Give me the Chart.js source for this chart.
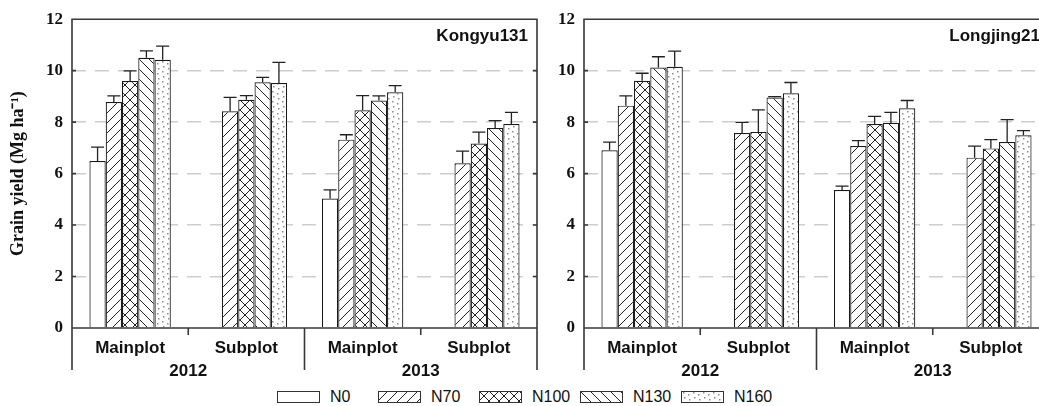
<!DOCTYPE html>
<html>
<head>
<meta charset="utf-8">
<script src="https://cdn.jsdelivr.net/npm/chart.js@4.4.0/dist/chart.umd.min.js"></script>
<style>
    html, body { margin: 0; padding: 0; background: #fff; width: 1039px; height: 406px; overflow: hidden; }
    #wrap { position: relative; width: 1039px; height: 406px; overflow: hidden; }
    #leftChart { position: absolute; left: 0; top: 0; }
    #rightChart { position: absolute; left: 545px; top: 0; }
    #legend { position: absolute; left: 277px; top: 388px; display: flex; font: 16px "Liberation Sans", Arial, sans-serif; color: #111; }
    .item { width: 101px; display: flex; align-items: center; }
    .item canvas { margin-right: 10px; }
</style>
</head>
<body>
<div id="wrap">
    <canvas id="leftChart" width="545" height="380"></canvas>
    <canvas id="rightChart" width="512" height="380"></canvas>
    <div id="legend"></div>
</div>
<script>
// --- Data ---
const categories = ['Mainplot', 'Subplot', 'Mainplot', 'Subplot'];
const years = ['2012', '2013'];
const seriesNames = ['N0', 'N70', 'N100', 'N130', 'N160'];

// Kongyu131 means and standard errors
const kongyuN0 = [6.49, null, 5.03, null];
const kongyuN70 = [8.78, 8.42, 7.32, 6.40];
const kongyuN100 = [9.60, 8.87, 8.46, 7.17];
const kongyuN130 = [10.50, 9.55, 8.84, 7.77];
const kongyuN160 = [10.42, 9.52, 9.16, 7.93];
const kongyuSeN0 = [0.54, null, 0.34, null];
const kongyuSeN70 = [0.24, 0.54, 0.19, 0.47];
const kongyuSeN100 = [0.39, 0.16, 0.57, 0.44];
const kongyuSeN130 = [0.27, 0.19, 0.18, 0.29];
const kongyuSeN160 = [0.53, 0.80, 0.26, 0.45];

// Longjing21 means and standard errors
const longjingN0 = [6.91, null, 5.36, null];
const longjingN70 = [8.64, 7.58, 7.07, 6.62];
const longjingN100 = [9.61, 7.62, 7.93, 6.98];
const longjingN130 = [10.12, 8.96, 7.97, 7.23];
const longjingN160 = [10.15, 9.12, 8.54, 7.49];
const longjingSeN0 = [0.31, null, 0.15, null];
const longjingSeN70 = [0.38, 0.41, 0.21, 0.45];
const longjingSeN100 = [0.29, 0.86, 0.29, 0.34];
const longjingSeN130 = [0.42, 0.03, 0.41, 0.87];
const longjingSeN160 = [0.61, 0.42, 0.30, 0.18];

const yTicks = [0, 2, 4, 6, 8, 10, 12];

const serif = '"Liberation Serif", "Times New Roman", serif';
const sans = '"Liberation Sans", Arial, sans-serif';

// --- Fill patterns ---
function hatch(kind) {
    const s = 10;
    const c = document.createElement('canvas');
    c.width = c.height = s;
    const g = c.getContext('2d');
    g.fillStyle = '#fff';
    g.fillRect(0, 0, s, s);
    if (kind === 'none') return '#fff';
    g.strokeStyle = '#222';
    g.lineWidth = 1;
    g.beginPath();
    if (kind === '/' || kind === 'x') {
        g.moveTo(0, s); g.lineTo(s, 0);
        g.moveTo(-1, 1); g.lineTo(1, -1);
        g.moveTo(s - 1, s + 1); g.lineTo(s + 1, s - 1);
    }
    if (kind === '\\' || kind === 'x') {
        g.moveTo(0, 0); g.lineTo(s, s);
        g.moveTo(s - 1, -1); g.lineTo(s + 1, 1);
        g.moveTo(-1, s - 1); g.lineTo(1, s + 1);
    }
    g.stroke();
    if (kind === '.') {
        g.fillStyle = '#8c8c8c';
        [[2, 1], [7, 3], [3, 6], [8, 8]].forEach(([px, py]) => g.fillRect(px, py, 1.5, 1.5));
    }
    return g.createPattern(c, 'repeat');
}
const fills = [hatch('none'), hatch('/'), hatch('x'), hatch('\\'), hatch('.')];

// --- Plugins ---
const errorBarPlugin = {
    id: 'errorBars',
    afterDatasetsDraw(chart) {
        const { ctx, scales: { y } } = chart;
        ctx.save();
        ctx.strokeStyle = '#222';
        ctx.lineWidth = 1.3;
        chart.data.datasets.forEach((ds, di) => {
            chart.getDatasetMeta(di).data.forEach((bar, i) => {
                const v = ds.data[i], e = ds.se[i];
                if (v == null || e == null) return;
                const top = y.getPixelForValue(v + e);
                ctx.beginPath();
                ctx.moveTo(bar.x, bar.y);
                ctx.lineTo(bar.x, top);
                ctx.moveTo(bar.x - 6.5, top);
                ctx.lineTo(bar.x + 6.5, top);
                ctx.stroke();
            });
        });
        ctx.restore();
    }
};

const framePlugin = {
    id: 'frame',
    afterDatasetsDraw(chart, args, opts) {
        const { ctx, chartArea: a, scales: { x, y } } = chart;
        const base = 370; // lower end of the category separators
        const edge = i => (x.getPixelForValue(i) + x.getPixelForValue(i + 1)) / 2;
        ctx.save();
        ctx.strokeStyle = '#383838';
        ctx.lineWidth = 1.6;
        ctx.beginPath();
        ctx.moveTo(a.left, base); ctx.lineTo(a.left, a.top);
        ctx.lineTo(a.right, a.top); ctx.lineTo(a.right, base);
        ctx.moveTo(a.left, a.bottom); ctx.lineTo(a.right, a.bottom);
        ctx.moveTo(edge(1), a.bottom); ctx.lineTo(edge(1), base);
        [0, 2].forEach(i => { ctx.moveTo(edge(i), a.bottom); ctx.lineTo(edge(i), a.bottom + 7); });
        yTicks.forEach(t => {
            const py = y.getPixelForValue(t);
            ctx.moveTo(a.left, py); ctx.lineTo(a.left + 4, py);
            ctx.moveTo(a.right, py); ctx.lineTo(a.right - 4, py);
        });
        ctx.stroke();

        // Year labels under each pair of categories
        ctx.fillStyle = '#111';
        ctx.font = 'bold 17px ' + sans;
        ctx.textAlign = 'center';
        ctx.textBaseline = 'middle';
        years.forEach((yr, i) => {
            const cx = (x.getPixelForValue(2 * i) + x.getPixelForValue(2 * i + 1)) / 2;
            ctx.fillText(yr, cx, 371);
        });

        // Cultivar name, top right
        ctx.textAlign = 'right';
        ctx.fillText(opts.label, a.right - 9, 36);
        ctx.restore();
    }
};

function buildChart(id, means, ses, label, showTitle, axisWidth) {
    return new Chart(document.getElementById(id), {
        type: 'bar',
        data: {
            labels: categories,
            datasets: seriesNames.map((name, k) => ({
                label: name,
                data: means[k],
                se: ses[k],
                backgroundColor: fills[k],
                borderColor: '#1a1a1a',
                borderWidth: 1.2
            }))
        },
        options: {
            responsive: false,
            animation: false,
            layout: { padding: { top: 17, right: 8, left: 0, bottom: 0 } },
            datasets: { bar: { categoryPercentage: 0.70, barPercentage: 1.0 } },
            plugins: {
                legend: { display: false },
                tooltip: { enabled: false },
                frame: { label: label }
            },
            scales: {
                x: {
                    grid: { display: false, drawTicks: false },
                    border: { display: false },
                    ticks: { font: { family: sans, size: 17, weight: 'bold' }, color: '#111', padding: 10, maxRotation: 0 },
                    afterFit: s => { s.height = 52; }
                },
                y: {
                    min: 0,
                    max: 12,
                    afterBuildTicks: s => { s.ticks = yTicks.map(v => ({ value: v })); },
                    ticks: { font: { family: serif, size: 17, weight: 'bold' }, color: '#111', padding: 9 },
                    grid: {
                        drawTicks: false,
                        lineWidth: 1.5,
                        color: c => (c.tick && (c.tick.value === 0 || c.tick.value === 12)) ? 'rgba(0,0,0,0)' : '#cdcdcd'
                    },
                    border: { display: false, dash: [14, 9] },
                    title: {
                        display: showTitle,
                        text: 'Grain yield (Mg ha⁻¹)',
                        font: { family: serif, size: 18, weight: 'bold' },
                        color: '#111',
                        padding: { top: 8, bottom: 0 }
                    },
                    afterFit: s => { s.width = axisWidth; }
                }
            }
        },
        plugins: [errorBarPlugin, framePlugin]
    });
}

const leftChart = buildChart('leftChart',
    [kongyuN0, kongyuN70, kongyuN100, kongyuN130, kongyuN160],
    [kongyuSeN0, kongyuSeN70, kongyuSeN100, kongyuSeN130, kongyuSeN160],
    'Kongyu131', true, 72);

const rightChart = buildChart('rightChart',
    [longjingN0, longjingN70, longjingN100, longjingN130, longjingN160],
    [longjingSeN0, longjingSeN70, longjingSeN100, longjingSeN130, longjingSeN160],
    'Longjing21', false, 39);

// --- Shared legend built from the datasets ---
const legend = document.getElementById('legend');
leftChart.data.datasets.forEach(ds => {
    const item = document.createElement('div');
    item.className = 'item';
    const sw = document.createElement('canvas');
    sw.width = 43; sw.height = 12;
    const g = sw.getContext('2d');
    g.fillStyle = ds.backgroundColor;
    g.fillRect(0, 0, 43, 12);
    g.strokeStyle = '#333';
    g.lineWidth = 1;
    g.strokeRect(0.5, 0.5, 42, 11);
    const txt = document.createElement('span');
    txt.textContent = ds.label;
    item.appendChild(sw);
    item.appendChild(txt);
    legend.appendChild(item);
});
</script>
</body>
</html>
